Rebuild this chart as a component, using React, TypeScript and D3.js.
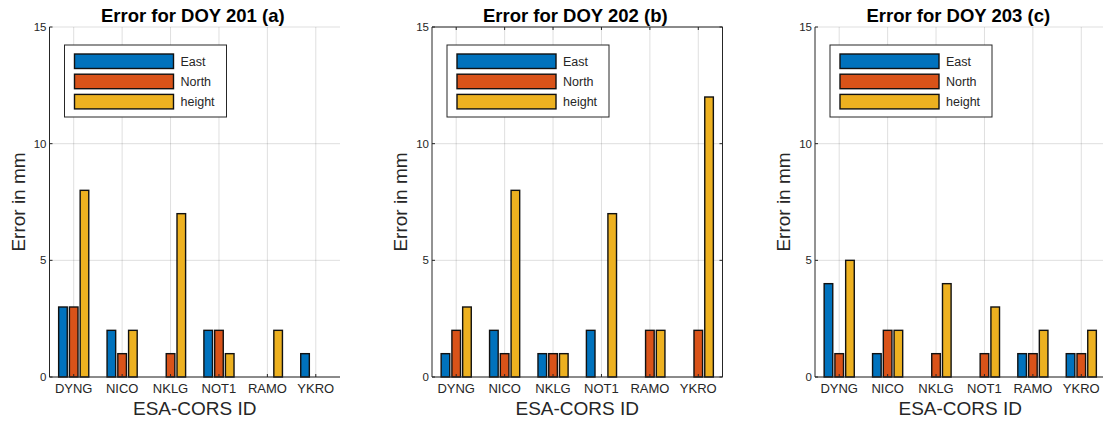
import React from "react";
import * as d3 from "d3";

// Station identifiers shared by every panel
const stations = ["DYNG", "NICO", "NKLG", "NOT1", "RAMO", "YKRO"];
const seriesNames = ["East", "North", "height"];
const seriesColors = ["#0072BD", "#D95319", "#EDB120"];
const yTicks = [0, 5, 10, 15];

// Errors (mm) per day of year
const doy201East = [3, 2, 0, 2, 0, 1];
const doy201North = [3, 1, 1, 2, 0, 0];
const doy201Height = [8, 2, 7, 1, 2, 0];

const doy202East = [1, 2, 1, 2, 0, 0];
const doy202North = [2, 1, 1, 0, 2, 2];
const doy202Height = [3, 8, 1, 7, 2, 12];

const doy203East = [4, 1, 0, 0, 1, 1];
const doy203North = [1, 2, 1, 1, 1, 1];
const doy203Height = [5, 2, 4, 3, 2, 2];

const panels = [
  { title: "Error for DOY 201 (a)", series: [doy201East, doy201North, doy201Height], left: 49.5, box: false },
  { title: "Error for DOY 202 (b)", series: [doy202East, doy202North, doy202Height], left: 432, box: true },
  { title: "Error for DOY 203 (c)", series: [doy203East, doy203North, doy203Height], left: 815, box: false },
];

const W = 1103;
const H = 424;
const plotW = 290.5;
const top = 27;
const bottom = 377;
const FONT = "'Liberation Sans', Arial, Helvetica, sans-serif";
const AX = "#262626";
const GRID = "rgba(38,38,38,0.15)";

function Panel({ p }: { p: (typeof panels)[number] }) {
  const x = d3.scaleLinear().domain([0.5, stations.length + 0.5]).range([p.left, p.left + plotW]);
  const y = d3.scaleLinear().domain([0, 15]).range([bottom, top]);
  const nb = seriesNames.length;
  const groupW = Math.min(0.8, nb / (nb + 1.5));
  const step = groupW / nb;
  const barW = step * 0.8;
  const right = p.left + plotW;
  const cx = (p.left + right) / 2;

  const lg = { x: p.left + 15, y: 45, w: 162, h: 72 };

  return (
    <g>
      {/* grid */}
      {stations.map((_, i) => (
        <line key={"gx" + i} x1={x(i + 1)} x2={x(i + 1)} y1={top} y2={bottom} stroke={GRID} strokeWidth={1} />
      ))}
      {yTicks.map((t) => (
        <line key={"gy" + t} x1={p.left} x2={right} y1={y(t)} y2={y(t)} stroke={GRID} strokeWidth={1} />
      ))}

      {/* bars */}
      {p.series.map((vals, s) =>
        vals.map((v, i) => {
          const c = i + 1 + (s - (nb - 1) / 2) * step;
          const x0 = x(c - barW / 2);
          const x1 = x(c + barW / 2);
          return (
            <rect
              key={`b${s}-${i}`}
              x={x0}
              y={y(v)}
              width={x1 - x0}
              height={y(0) - y(v)}
              fill={seriesColors[s]}
              stroke="#111"
              strokeWidth={1.4}
            />
          );
        })
      )}

      {/* axes */}
      <line x1={p.left} x2={p.left} y1={top} y2={bottom} stroke={AX} strokeWidth={1} />
      <line x1={p.left} x2={right} y1={bottom} y2={bottom} stroke={AX} strokeWidth={1} />
      {p.box && (
        <g>
          <line x1={p.left} x2={right} y1={top} y2={top} stroke={AX} strokeWidth={1} />
          <line x1={right} x2={right} y1={top} y2={bottom} stroke={AX} strokeWidth={1} />
          {yTicks.map((t) => (
            <line key={"rt" + t} x1={right} x2={right - 3} y1={y(t)} y2={y(t)} stroke={AX} />
          ))}
          {stations.map((_, i) => (
            <line key={"tt" + i} x1={x(i + 1)} x2={x(i + 1)} y1={top} y2={top + 3} stroke={AX} />
          ))}
        </g>
      )}
      {yTicks.map((t) => (
        <g key={"yt" + t}>
          <line x1={p.left} x2={p.left + 3} y1={y(t)} y2={y(t)} stroke={AX} />
          <text x={p.left - 3} y={y(t) + 4} textAnchor="end" fontSize={11.5} fill={AX} fontFamily={FONT}>
            {t}
          </text>
        </g>
      ))}
      {stations.map((s, i) => (
        <g key={"xt" + s}>
          <line x1={x(i + 1)} x2={x(i + 1)} y1={bottom} y2={bottom - 3} stroke={AX} />
          <text x={x(i + 1)} y={393} textAnchor="middle" fontSize={13} fill={AX} fontFamily={FONT}>
            {s}
          </text>
        </g>
      ))}

      {/* labels */}
      <text x={cx} y={415} textAnchor="middle" fontSize={19} fill={AX} fontFamily={FONT}>
        ESA-CORS ID
      </text>
      <text
        transform={`translate(${p.left - 25},${(top + bottom) / 2}) rotate(-90)`}
        textAnchor="middle"
        fontSize={19}
        fill={AX}
        fontFamily={FONT}
      >
        Error in mm
      </text>
      <text x={cx - 2} y={21.5} textAnchor="middle" fontSize={18.5} fontWeight="bold" fill="#000" fontFamily={FONT}>
        {p.title}
      </text>

      {/* legend */}
      <rect x={lg.x} y={lg.y} width={lg.w} height={lg.h} fill="#fff" stroke={AX} strokeWidth={1} />
      {seriesNames.map((n, s) => (
        <g key={"lg" + n}>
          <rect
            x={lg.x + 10}
            y={lg.y + 9 + s * 20.2}
            width={99}
            height={14.5}
            fill={seriesColors[s]}
            stroke="#111"
            strokeWidth={1.4}
          />
          <text x={lg.x + 116} y={lg.y + 21 + s * 20.2} fontSize={12.5} fill={AX} fontFamily={FONT}>
            {n}
          </text>
        </g>
      ))}
    </g>
  );
}

export default function App() {
  return (
    <svg
      width={W}
      height={H}
      viewBox={`0 0 ${W} ${H}`}
      style={{ position: "absolute", left: 0, top: 0, background: "#fff" }}
    >
      <rect x={0} y={0} width={W} height={H} fill="#fff" />
      {panels.map((p) => (
        <Panel key={p.title} p={p} />
      ))}
    </svg>
  );
}
